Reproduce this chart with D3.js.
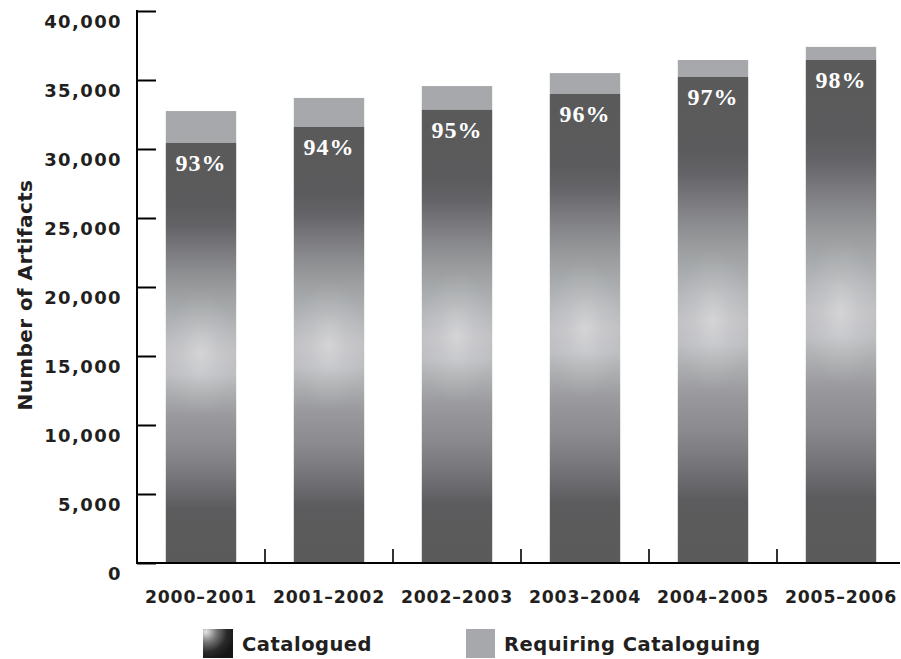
<!DOCTYPE html>
<html>
<head>
<meta charset="utf-8">
<script src="https://cdn.jsdelivr.net/npm/d3@7"></script>
<style>
  html, body { margin: 0; padding: 0; background: #fff; }
  svg { display: block; }
</style>
</head>
<body>
<script>
// ---- data ----
const categories = ["2000–2001", "2001–2002", "2002–2003", "2003–2004", "2004–2005", "2005–2006"];
const catalogued = [30450, 31600, 32850, 34000, 35220, 36450];
const requiring  = [2300, 2100, 1710, 1500, 1230, 950];
const percentLabels = ["93%", "94%", "95%", "96%", "97%", "98%"];
const yTicks = [0, 5000, 10000, 15000, 20000, 25000, 30000, 35000, 40000];
const seriesNames = ["Catalogued", "Requiring Cataloguing"];
const yTitle = "Number of Artifacts";

// ---- layout ----
const W = 901, H = 659;
const mLeft = 137, mRight = 905, mTop = 11, mBottom = 563;
const textColor = "#231f20";
const greyBar = "#a7a8ab";

const svg = d3.select("body").append("svg").attr("width", W).attr("height", H);
const defs = svg.append("defs");

// vertical gradient for catalogued bars
const lg = defs.append("linearGradient").attr("id", "catGrad")
  .attr("x1", 0).attr("y1", 0).attr("x2", 0).attr("y2", 1);
[[0, "#5a5a5a"], [0.15, "#5b5b5d"], [0.2, "#646468"], [0.255, "#7a7a7e"], [0.3, "#8a8b8e"],
 [0.35, "#9a9c9e"], [0.4, "#a8abad"], [0.45, "#b6b8bb"], [0.5, "#c2c2c6"], [0.55, "#bebfc3"],
 [0.59, "#aeb0b2"], [0.65, "#9a9a9e"], [0.73, "#8a8a8e"], [0.79, "#78787c"], [0.84, "#67676b"],
 [0.87, "#5c5c5e"], [1, "#5a5a5a"]]
  .forEach(([o, c]) => lg.append("stop").attr("offset", o).attr("stop-color", c));

// central highlight
const rg = defs.append("radialGradient").attr("id", "glow")
  .attr("cx", 0.5).attr("cy", 0.5).attr("r", 0.5)
  .attr("gradientTransform", "translate(0.5,0.5) scale(1,0.3) translate(-0.5,-0.5)");
rg.append("stop").attr("offset", 0).attr("stop-color", "#ffffff").attr("stop-opacity", 0.3);
rg.append("stop").attr("offset", 0.5).attr("stop-color", "#ffffff").attr("stop-opacity", 0.1);
rg.append("stop").attr("offset", 1).attr("stop-color", "#ffffff").attr("stop-opacity", 0);

// legend swatch gradient
const sg = defs.append("radialGradient").attr("id", "swatchGrad")
  .attr("cx", 0.1).attr("cy", 0.1).attr("r", 1.0).attr("fx", 0.1).attr("fy", 0.1);
[[0, "#e4e4e4"], [0.35, "#777"], [0.7, "#2a2a2a"], [1, "#151515"]]
  .forEach(([o, c]) => sg.append("stop").attr("offset", o).attr("stop-color", c));

// ---- scales ----
const x = d3.scaleBand().domain(categories).range([mLeft, mRight])
  .paddingInner(0.45).paddingOuter(0.225);
const y = d3.scaleLinear().domain([0, 40000]).range([mBottom, mTop]);

const data = categories.map((c, i) => ({
  cat: c, done: catalogued[i], todo: requiring[i], label: percentLabels[i]
}));

// ---- bars ----
const g = svg.append("g");
g.selectAll("rect.todo").data(data).join("rect").attr("class", "todo")
  .attr("x", d => x(d.cat)).attr("width", x.bandwidth())
  .attr("y", d => y(d.done + d.todo)).attr("height", d => y(d.done) - y(d.done + d.todo))
  .attr("fill", greyBar);
g.selectAll("rect.done").data(data).join("rect").attr("class", "done")
  .attr("x", d => x(d.cat)).attr("width", x.bandwidth())
  .attr("y", d => y(d.done)).attr("height", d => y(0) - y(d.done))
  .attr("fill", "url(#catGrad)");
g.selectAll("rect.glow").data(data).join("rect").attr("class", "glow")
  .attr("x", d => x(d.cat)).attr("width", x.bandwidth())
  .attr("y", d => y(d.done)).attr("height", d => y(0) - y(d.done))
  .attr("fill", "url(#glow)");

// percent labels
g.selectAll("text.pct").data(data).join("text").attr("class", "pct")
  .attr("x", d => x(d.cat) + x.bandwidth() / 2)
  .attr("y", d => y(d.done) + 28)
  .attr("text-anchor", "middle")
  .attr("fill", "#ffffff")
  .style("font-family", "'Liberation Serif', 'DejaVu Serif', serif")
  .style("font-weight", "bold").style("font-size", "24px").style("letter-spacing", "1px")
  .text(d => d.label);

// ---- y axis ----
const yAxis = d3.axisLeft(y).tickValues(yTicks).tickFormat(d3.format(","))
  .tickSize(-19).tickPadding(15);
const ya = svg.append("g").attr("transform", `translate(${mLeft},0)`).call(yAxis);
ya.select(".domain").remove();
ya.selectAll(".tick line").attr("stroke", "#000").attr("stroke-width", 2);
ya.selectAll(".tick text")
  .attr("dy", "16px")
  .attr("fill", textColor)
  .style("font-family", "'DejaVu Sans', sans-serif")
  .style("font-weight", "bold").style("font-size", "18px").style("letter-spacing", "1.4px");
svg.append("line").attr("x1", mLeft).attr("x2", mLeft).attr("y1", y(40000) - 1).attr("y2", y(0) + 1)
  .attr("stroke", "#000").attr("stroke-width", 2);

// ---- x axis ----
svg.append("line").attr("x1", mLeft).attr("x2", W - 1).attr("y1", y(0)).attr("y2", y(0))
  .attr("stroke", "#000").attr("stroke-width", 2);
const step = x.step();
svg.selectAll("line.xtick").data(categories.slice(0, -1)).join("line").attr("class", "xtick")
  .attr("x1", c => x(c) + x.bandwidth() + (step - x.bandwidth()) / 2)
  .attr("x2", c => x(c) + x.bandwidth() + (step - x.bandwidth()) / 2)
  .attr("y1", y(0)).attr("y2", y(0) - 14)
  .attr("stroke", "#000").attr("stroke-width", 1.6);
svg.selectAll("text.xlab").data(categories).join("text").attr("class", "xlab")
  .attr("x", c => x(c) + x.bandwidth() / 2)
  .attr("y", y(0) + 40)
  .attr("text-anchor", "middle").attr("fill", textColor)
  .style("font-family", "'DejaVu Sans', sans-serif")
  .style("font-weight", "bold").style("font-size", "17.3px").style("letter-spacing", "0.8px")
  .text(c => c);

// y title
svg.append("text")
  .attr("transform", `translate(32,${(mTop + mBottom) / 2 + 8}) rotate(-90)`)
  .attr("text-anchor", "middle").attr("fill", textColor)
  .style("font-family", "'DejaVu Sans', sans-serif")
  .style("font-weight", "bold").style("font-size", "20px").style("letter-spacing", "0.4px")
  .text(yTitle);

// ---- legend ----
const legendItems = [
  { name: seriesNames[0], fill: "url(#swatchGrad)", sx: 203, sw: 30, tx: 242 },
  { name: seriesNames[1], fill: greyBar, sx: 466, sw: 29, tx: 504 }
];
const lgG = svg.append("g");
lgG.selectAll("rect").data(legendItems).join("rect")
  .attr("x", d => d.sx).attr("y", 629).attr("width", d => d.sw).attr("height", 29)
  .attr("fill", d => d.fill);
lgG.selectAll("text").data(legendItems).join("text")
  .attr("x", d => d.tx).attr("y", 651).attr("fill", textColor)
  .style("font-family", "'DejaVu Sans', sans-serif")
  .style("font-weight", "bold").style("font-size", "19.5px").style("letter-spacing", "0.5px")
  .text(d => d.name);
</script>
</body>
</html>
